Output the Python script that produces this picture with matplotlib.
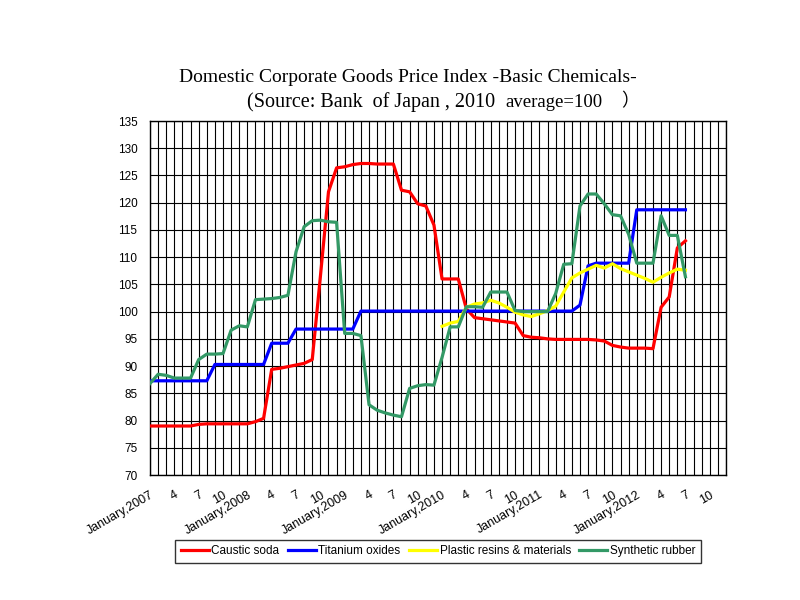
import numpy as np
from matplotlib import pyplot as plt

# monthly index, January 2007 .. July 2012 (2010 average = 100)
caustic_soda = [79.0, 79.0, 79.0, 79.0, 79.0, 79.0, 79.3, 79.4, 79.4, 79.4, 79.4, 79.4,
                79.4, 79.8, 80.4, 89.4, 89.6, 89.9, 90.2, 90.5, 91.2, 106.4, 122.0, 126.4,
                126.6, 127.0, 127.2, 127.2, 127.1, 127.1, 127.1, 122.3, 122.0, 119.8, 119.4, 115.9,
                106.0, 106.0, 106.0, 100.5, 98.9, 98.7, 98.5, 98.3, 98.1, 97.9, 95.6, 95.3,
                95.2, 95.0, 94.9, 94.9, 94.9, 94.9, 94.9, 94.8, 94.6, 93.8, 93.5, 93.3,
                93.3, 93.3, 93.2, 100.8, 102.7, 111.7, 113.0]
titanium_oxides = [87.3, 87.3, 87.3, 87.3, 87.3, 87.3, 87.3, 87.3, 90.3, 90.3, 90.3, 90.3,
                   90.3, 90.3, 90.3, 94.2, 94.2, 94.2, 96.8, 96.8, 96.8, 96.8, 96.8, 96.8,
                   96.8, 96.8, 100.1, 100.1, 100.1, 100.1, 100.1, 100.1, 100.1, 100.1, 100.1, 100.1,
                   100.1, 100.1, 100.1, 100.1, 100.1, 100.1, 100.1, 100.1, 100.1, 100.1, 100.1, 100.1,
                   100.1, 100.1, 100.1, 100.1, 100.1, 101.2, 108.4, 108.9, 108.9, 108.9, 108.9, 108.9,
                   118.7, 118.7, 118.7, 118.7, 118.7, 118.7, 118.7]
# plastic resins start in January 2010
plastic_start = 36
plastic_resins = [97.3, 97.9, 98.2, 100.8, 101.4, 101.6, 102.1, 101.6, 100.8, 99.9, 99.4, 99.1,
                  99.6, 100.2, 101.0, 103.6, 106.2, 107.1, 107.8, 108.5, 108.0, 108.8, 107.9, 107.3,
                  106.7, 106.1, 105.4, 106.3, 107.1, 107.8, 107.6]
synthetic_rubber = [86.8, 88.5, 88.3, 87.8, 87.8, 87.8, 91.2, 92.2, 92.2, 92.3, 96.6, 97.4,
                    97.2, 102.2, 102.3, 102.4, 102.6, 103.0, 111.0, 115.6, 116.7, 116.8, 116.5, 116.4,
                    96.0, 96.0, 95.6, 82.9, 81.9, 81.4, 81.0, 80.7, 85.9, 86.4, 86.6, 86.5,
                    91.6, 97.2, 97.2, 100.9, 100.9, 100.8, 103.6, 103.6, 103.6, 100.2, 100.0, 100.0,
                    100.0, 100.0, 103.3, 108.7, 108.8, 119.4, 121.6, 121.6, 119.8, 117.8, 117.6, 114.2,
                    108.9, 108.9, 108.9, 117.6, 114.0, 114.0, 106.4]

n_months = 72  # axis runs to December 2012
tick_labels = []
for year in range(2007, 2013):
    tick_labels += ['January,{}'.format(year), '4', '7', '10']

fig = plt.figure(figsize=(8, 6), dpi=100)
ax = fig.add_axes([0.1875, 0.2083, 0.72, 0.59])

x = np.arange(len(caustic_soda))
xp = np.arange(plastic_start, plastic_start + len(plastic_resins))

ax.plot(x, caustic_soda, color='#FF0000', lw=2.3, label='Caustic soda', zorder=3)
ax.plot(x, titanium_oxides, color='#0000FF', lw=2.3, label='Titanium oxides', zorder=3)
ax.plot(xp, plastic_resins, color='#FFFF00', lw=2.3, label='Plastic resins & materials', zorder=3)
ax.plot(x, synthetic_rubber, color='#339966', lw=2.3, label='Synthetic rubber', zorder=3)

# grid: one vertical line per month, horizontal every 5
for i in range(n_months):
    ax.axvline(i, color='black', lw=0.8, zorder=1)
for v in range(70, 136, 5):
    ax.axhline(v, color='black', lw=0.8, zorder=1)

ax.set_xlim(0, n_months - 1)
ax.set_ylim(70, 135)
ax.set_yticks(range(70, 136, 5))
ax.set_xticks(range(0, n_months - 2, 3))
ax.set_xticklabels(tick_labels, rotation=30, ha='right', va='top', rotation_mode='anchor',
                   fontsize=9, family='Liberation Sans')
for lab in ax.get_yticklabels():
    lab.set_family('Liberation Sans')
    lab.set_fontsize(8.5)
ax.tick_params(length=0, pad=9)
ax.tick_params(axis='x', pad=10)
for s in ax.spines.values():
    s.set_linewidth(1.0)

serif = ['Liberation Serif', 'Noto Sans CJK JP']
fig.text(0.51, 0.8638, 'Domestic Corporate Goods Price Index -Basic Chemicals-',
         ha='center', va='baseline', fontsize=14, family=serif)
fig.text(0.3083, 0.8222, '(Source: Bank  of Japan , 2010',
         ha='left', va='baseline', fontsize=14.5, family=serif)
fig.text(0.632, 0.8222, 'average=100',
         ha='left', va='baseline', fontsize=13.5, family=serif)
fig.text(0.776, 0.8222, '\uff09',
         ha='left', va='baseline', fontsize=13, family=serif)

leg = fig.legend(loc='center', bbox_to_anchor=(0.5475, 0.081), ncol=4,
                 frameon=True, fancybox=False, handlelength=2.4, handletextpad=0.2,
                 columnspacing=0.7, borderpad=0.45, prop={'family': 'Liberation Sans', 'size': 8.5})
leg.get_frame().set_edgecolor('black')
leg.get_frame().set_linewidth(1.0)

fig.savefig('out.png', dpi=100)
